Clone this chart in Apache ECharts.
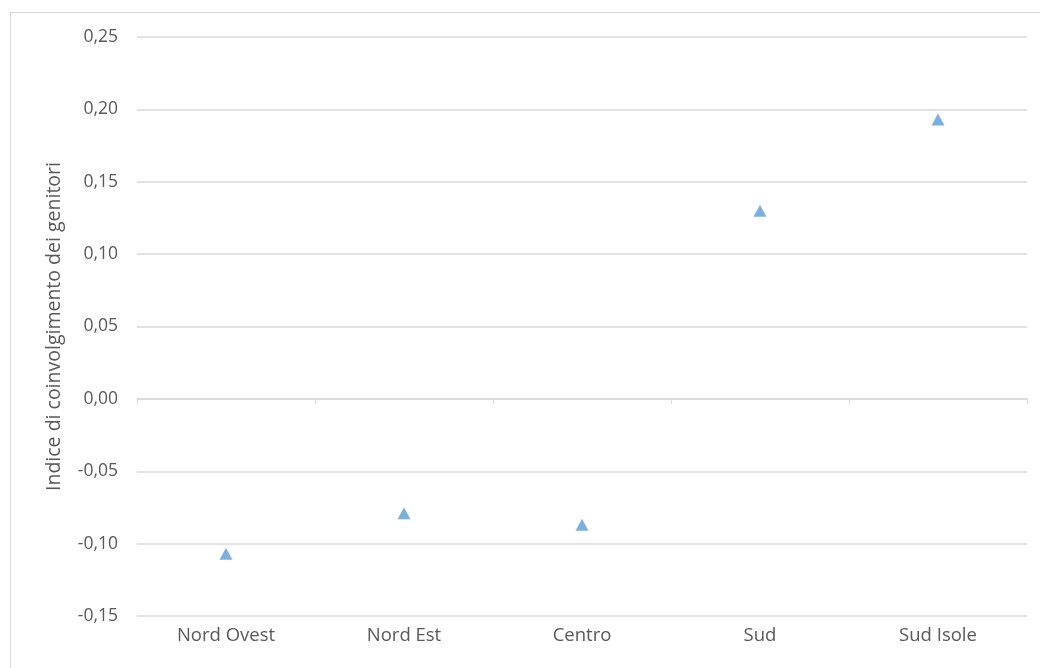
<!DOCTYPE html>
<html>
<head>
<meta charset="utf-8">
<script src="https://cdn.jsdelivr.net/npm/echarts@6/dist/echarts.min.js"></script>
<style>
html,body{margin:0;padding:0;background:#fff;}
#frame{position:absolute;left:10px;top:12px;width:1040px;height:670px;border:1px solid #d9d9d9;box-sizing:border-box;}
#chart{position:absolute;left:0;top:0;width:1040px;height:668px;}
</style>
</head>
<body>
<div id="frame"></div>
<div id="chart"></div>
<script>
const categories = ["Nord Ovest", "Nord Est", "Centro", "Sud", "Sud Isole"];
const values = [-0.107, -0.079, -0.087, 0.130, 0.193];
const yAxisName = "Indice di coinvolgimento dei genitori";

const chart = echarts.init(document.getElementById('chart'), null, {renderer: 'canvas'});
const fmt = v => v.toFixed(2).replace('.', ',');
chart.setOption({
  animation: false,
  grid: {left: 137, right: 13, top: 37, bottom: 52},
  xAxis: [
    {
      type: 'category', data: categories, position: 'bottom',
      axisLine: {onZero: true, lineStyle: {color: '#d9d9d9', width: 1.5}},
      axisTick: {show: true, length: 5, lineStyle: {color: '#d9d9d9'}},
      axisLabel: {show: false}
    },
    {
      type: 'category', data: categories, position: 'bottom',
      axisLine: {show: false, onZero: false}, axisTick: {show: false},
      axisLabel: {color: '#595959', fontSize: 18.5, fontFamily: 'Open Sans', margin: 10}
    }
  ],
  yAxis: {
    type: 'value', min: -0.15, max: 0.25, interval: 0.05,
    name: yAxisName, nameLocation: 'middle', nameGap: 73, nameRotate: 90,
    nameTextStyle: {color: '#595959', fontSize: 19.5, fontFamily: 'Open Sans'},
    axisLine: {show: false}, axisTick: {show: false},
    axisLabel: {color: '#595959', fontSize: 17.5, fontFamily: 'Open Sans', margin: 19, formatter: fmt},
    splitLine: {lineStyle: {color: '#d9d9d9', width: 1.5}}
  },
  series: [{
    type: 'scatter', xAxisIndex: 0, data: values,
    symbol: 'triangle', symbolSize: [13, 12],
    itemStyle: {color: '#5B9BD5'}
  }]
});
</script>
</body>
</html>
